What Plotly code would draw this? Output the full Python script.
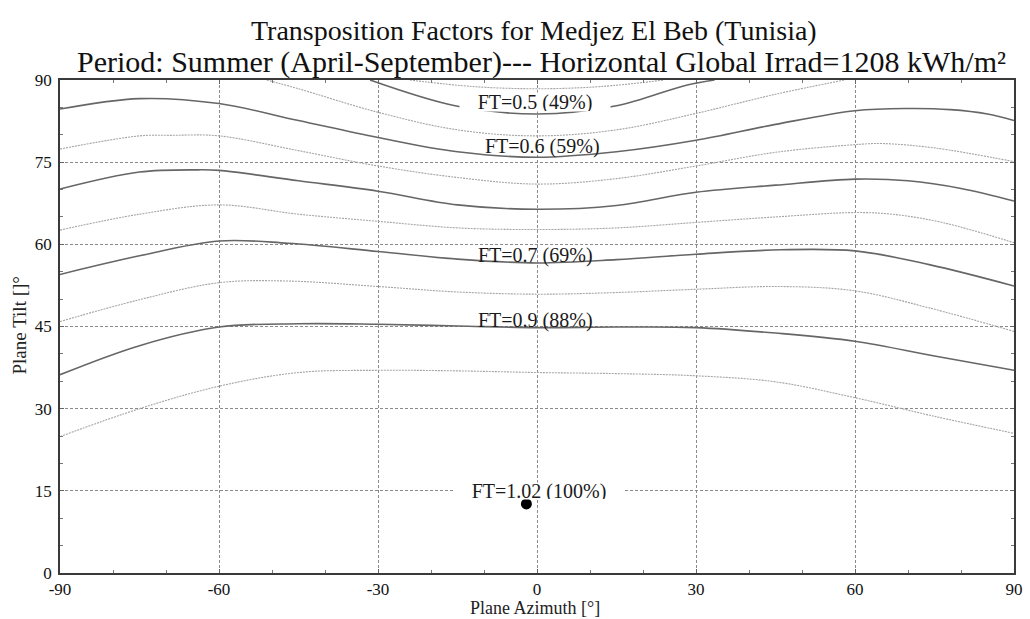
import plotly.graph_objects as go

# Iso-factor curves: plane azimuth [deg] -> plane tilt [deg]
az_l0 = [-24, -12, 0, 12, 24]
tilt_l0 = [90, 88.8, 88.4, 88.8, 90]

az_d1 = [-31.5, -15, 0, 15, 28, 33.5]
tilt_d1 = [90, 85.2, 83.8, 85.3, 89.0, 90]

az_l1 = [-51, -45, -30, -15, 0, 15, 30, 45, 58]
tilt_l1 = [90, 88.4, 84.1, 80.9, 79.8, 80.9, 83.9, 87.4, 90]

az_d2 = [-90, -75, -60, -45, -30, -15, 0, 15, 30, 45, 60, 70, 78, 85, 90]
tilt_d2 = [84.7, 86.6, 85.7, 82.6, 79.5, 76.9, 75.9, 76.9, 79.0, 81.9, 84.4, 84.8, 84.6, 83.8, 82.6]

az_l2 = [-90, -75, -69, -60, -45, -30, -15, 0, 15, 30, 45, 60, 65, 75, 90]
tilt_l2 = [77.4, 79.8, 79.9, 79.8, 77.1, 74.3, 72.2, 71.0, 72.0, 74.3, 76.8, 78.2, 78.4, 77.6, 75.1]

az_d3 = [-90, -75, -64, -60, -45, -30, -15, 0, 15, 30, 45, 60, 70, 80, 90]
tilt_d3 = [70.1, 73.2, 73.6, 73.5, 71.6, 69.7, 67.2, 66.4, 67.1, 69.5, 70.8, 71.9, 71.6, 70.2, 67.9]

az_l3 = [-90, -75, -60, -45, -30, -15, 0, 15, 30, 45, 60, 67, 75, 82, 90]
tilt_l3 = [62.6, 65.5, 67.2, 65.5, 64.2, 63.0, 62.7, 63.0, 64.0, 65.0, 65.8, 65.5, 64.3, 62.6, 60.3]

az_d4 = [-90, -75, -60, -47, -30, -15, 0, 15, 30, 46, 60, 74, 90]
tilt_d4 = [54.5, 57.9, 60.6, 60.2, 58.7, 57.3, 56.6, 57.2, 58.2, 59.0, 58.8, 56.3, 52.4]

az_l4 = [-90, -75, -60, -47, -30, -15, 0, 15, 30, 46, 60, 74, 90]
tilt_l4 = [45.9, 49.9, 53.0, 53.3, 52.3, 51.3, 50.9, 51.2, 51.8, 52.3, 51.5, 48.4, 44.1]

az_d5 = [-90, -75, -60, -45, -30, -15, 0, 15, 30, 45, 60, 75, 90]
tilt_d5 = [36.2, 41.5, 44.9, 45.5, 45.4, 45.1, 44.8, 44.9, 44.8, 43.8, 42.3, 39.6, 37.0]

az_l5 = [-90, -75, -60, -45, -30, -15, 0, 15, 30, 45, 60, 75, 90]
tilt_l5 = [24.9, 30.0, 34.1, 36.6, 37.0, 36.9, 36.6, 36.4, 36.0, 34.9, 32.0, 28.6, 25.5]

# Optimum orientation
opt_az = [-2]
opt_tilt = [12.6]

# Curve labels
label_text = ["FT=0.5 (49%)", "FT=0.6 (59%)", "FT=0.7 (69%)", "FT=0.9 (88%)", "FT=1.02 (100%)"]
label_az = [-0.3, 1.0, -0.3, -0.3, 0.3]
label_tilt = [86.0, 77.8, 57.9, 46.1, 15.0]

x_ticks = [-90, -60, -30, 0, 30, 60, 90]
x_ticktext = ["-90", "-60", "-30", "0", "30", "60", "90"]
y_ticks = [0, 15, 30, 45, 60, 75, 90]
y_ticktext = ["0", "15", "30", "45", "60", "75", "90"]

title_1 = "Transposition Factors for Medjez El Beb (Tunisia)"
title_2 = "Period: Summer (April-September)--- Horizontal Global Irrad=1208 kWh/m²"

SERIF = "Liberation Serif"
DARK = dict(color="#666666", width=1.6)
LIGHT = dict(color="#a4a4a4", width=1.1, dash="2px,1px")

fig = go.Figure()

curves = [
    (az_l0, tilt_l0, LIGHT), (az_d1, tilt_d1, DARK), (az_l1, tilt_l1, LIGHT),
    (az_d2, tilt_d2, DARK), (az_l2, tilt_l2, LIGHT), (az_d3, tilt_d3, DARK),
    (az_l3, tilt_l3, LIGHT), (az_d4, tilt_d4, DARK), (az_l4, tilt_l4, LIGHT),
    (az_d5, tilt_d5, DARK), (az_l5, tilt_l5, LIGHT),
]
for xs, ys, style in curves:
    fig.add_trace(go.Scatter(x=xs, y=ys, mode="lines", line=dict(shape="spline", smoothing=1.0, **style),
                             showlegend=False, hoverinfo="skip"))

fig.add_trace(go.Scatter(x=opt_az, y=opt_tilt, mode="markers",
                         marker=dict(color="black", size=11), showlegend=False))

# Label boxes: the 0.5 and 1.02 labels blank out the line/grid behind them
box_w = [150, None, None, None, 170]
box_h = [18, None, None, None, 16]
for txt, ax_, ay_, bw, bh in zip(label_text, label_az, label_tilt, box_w, box_h):
    kw = dict(x=ax_, y=ay_, xref="x", yref="y", text=txt, showarrow=False,
              xanchor="center", yanchor="middle",
              font=dict(family=SERIF, size=20, color="#1a1a1a"))
    if bw:
        kw.update(bgcolor="white", width=bw, height=bh, borderpad=0)
    fig.add_annotation(**kw)

# Titles and axis captions
fig.add_annotation(x=0.4964, y=1.1014, xref="paper", yref="paper", text=title_1, showarrow=False,
                   xanchor="center", yanchor="middle",
                   font=dict(family=SERIF, size=28, color="#111"))
fig.add_annotation(x=0.5047, y=1.0365, xref="paper", yref="paper", text=title_2, showarrow=False,
                   xanchor="center", yanchor="middle",
                   font=dict(family=SERIF, size=30, color="#111"))
fig.add_annotation(x=0.498, y=-0.0705, xref="paper", yref="paper", text="Plane Azimuth [°]",
                   xanchor="center", yanchor="middle",
                   showarrow=False, font=dict(family=SERIF, size=18, color="#222"))
fig.add_annotation(x=-0.0425, y=0.503, xref="paper", yref="paper", text="Plane Tilt []°",
                   xanchor="center", yanchor="middle",
                   textangle=-90, showarrow=False, font=dict(family=SERIF, size=19, color="#222"))

axis_common = dict(
    showgrid=True, gridcolor="#8a8a8a", gridwidth=1, griddash="3px,2px",
    showline=True, linecolor="#3a3a3a", linewidth=1.6, mirror="allticks",
    ticks="inside", ticklen=4, tickcolor="#666", zeroline=False,
    tickfont=dict(family=SERIF, size=17, color="#111"),
)

fig.update_layout(
    width=1030, height=619,
    margin=dict(l=60, r=7, t=80, b=46),
    paper_bgcolor="white", plot_bgcolor="white",
    xaxis=dict(range=[-90, 90], tickvals=x_ticks, ticktext=x_ticktext,
               minor=dict(dtick=10, ticks="inside", ticklen=3, tickcolor="#777", showgrid=False),
               **axis_common),
    yaxis=dict(range=[0, 90], tickvals=y_ticks, ticktext=y_ticktext, ticklabelstandoff=3,
               minor=dict(dtick=5, ticks="inside", ticklen=3, tickcolor="#777", showgrid=False),
               **axis_common),
)

fig.write_html("out.html")
